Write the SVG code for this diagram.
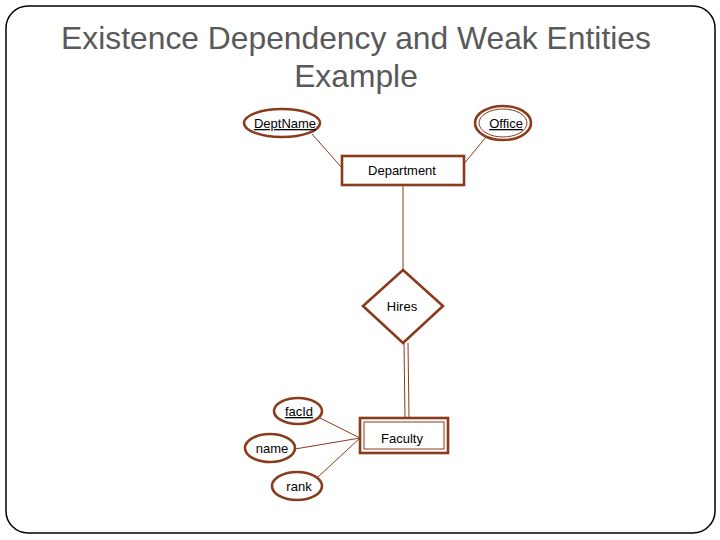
<svg xmlns="http://www.w3.org/2000/svg" width="720" height="540" viewBox="0 0 720 540">
<style>
.t{font-family:"Liberation Sans",Arial,sans-serif;fill:#595959;font-size:31.8px;text-anchor:middle}
.l{font-family:"Liberation Sans",Arial,sans-serif;fill:#000;font-size:13px;text-anchor:middle}
.sh{fill:#fff;stroke:#8a3b1c;stroke-width:2.6}
.c{stroke:#8a3b1c;stroke-width:1;fill:none}
</style>
<rect width="720" height="540" fill="#fff"/>
<rect x="6" y="6" width="709" height="527" rx="22" fill="none" stroke="#000" stroke-width="1.5"/>
<text class="t" x="356" y="49">Existence Dependency and Weak Entities</text>
<text class="t" x="356" y="87">Example</text>
<g id="connectors">
<line class="c" x1="312" y1="134" x2="342" y2="168"/>
<line class="c" x1="486" y1="137" x2="463" y2="165"/>
<line class="c" x1="403" y1="185" x2="403" y2="270"/>
<line class="c" x1="404" y1="343" x2="405" y2="418"/>
<line class="c" x1="408" y1="343" x2="409" y2="418"/>
<line class="c" x1="320" y1="418" x2="360" y2="438"/>
<line class="c" x1="295" y1="449" x2="360" y2="438"/>
<line class="c" x1="318" y1="477" x2="360" y2="438"/>
</g>
<g id="DeptName">
<ellipse class="sh" cx="282" cy="123" rx="38" ry="14"/>
<text class="l" x="285" y="128" text-decoration="underline">DeptName</text>
</g>
<g id="Office">
<ellipse class="sh" cx="503" cy="123" rx="28" ry="17"/>
<ellipse class="c" cx="503" cy="123" rx="24" ry="14" stroke-width="2"/>
<text class="l" x="506" y="128" text-decoration="underline">Office</text>
</g>
<g id="Department">
<rect class="sh" x="342" y="156" width="122" height="29"/>
<text class="l" x="402" y="175" font-size="14">Department</text>
</g>
<g id="Hires">
<polygon class="sh" points="403,270 443,306 403,343 363,306"/>
<text class="l" x="402" y="311">Hires</text>
</g>
<g id="Faculty">
<rect class="sh" x="360" y="418" width="88" height="35"/>
<rect class="c" x="364" y="422" width="80" height="27" stroke-width="2"/>
<text class="l" x="402" y="443">Faculty</text>
</g>
<g id="facId">
<ellipse class="sh" cx="298" cy="411" rx="24" ry="13"/>
<text class="l" x="299" y="416" font-size="12" text-decoration="underline">facId</text>
</g>
<g id="name">
<ellipse class="sh" cx="270" cy="448" rx="25" ry="14"/>
<text class="l" x="272" y="453" font-size="12">name</text>
</g>
<g id="rank">
<ellipse class="sh" cx="297" cy="486" rx="25" ry="14"/>
<text class="l" x="299" y="491" font-size="12">rank</text>
</g>
</svg>
